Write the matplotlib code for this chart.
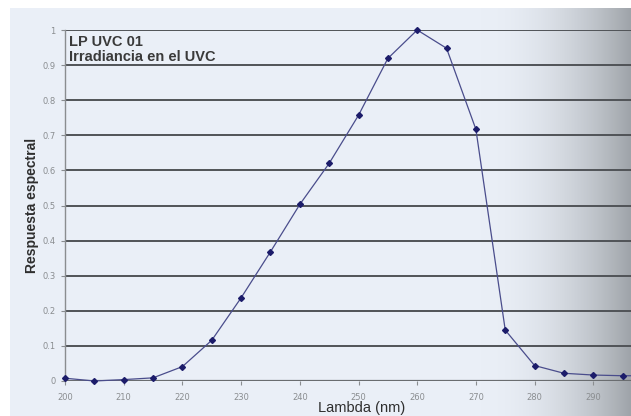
import numpy as np
import matplotlib
matplotlib.use('Agg')
import matplotlib.pyplot as plt

# data
wavelength = [200, 205, 210, 215, 220, 225, 230, 235, 240, 245, 250,
              255, 260, 265, 270, 275, 280, 285, 290, 295, 300]
response = [0.008, 0.0, 0.004, 0.009, 0.041, 0.116, 0.237, 0.368, 0.503, 0.62, 0.757,
            0.919, 1.0, 0.948, 0.717, 0.145, 0.044, 0.022, 0.017, 0.015, 0.015]
x_ticks = [200, 210, 220, 230, 240, 250, 260, 270, 280, 290, 300]
y_ticks = [0, 0.1, 0.2, 0.3, 0.4, 0.5, 0.6, 0.7, 0.8, 0.9, 1]
y_tick_labels = ['0', '0.1', '0.2', '0.3', '0.4', '0.5', '0.6', '0.7', '0.8', '0.9', '1']

W, H = 631, 416
fig = plt.figure(figsize=(W / 100, H / 100), dpi=100)

# background: pale blue paper that goes grey towards the right edge (photo)
bg = fig.add_axes([0, 0, 1, 1], zorder=-5)
cols = np.arange(W)
light = np.array([234, 239, 247]) / 255
dark = np.array([158, 163, 168]) / 255
t = np.clip((cols - 480) / (W - 480), 0, 1) ** 2.0
row = light[None, :] * (1 - t[:, None]) + dark[None, :] * t[:, None]
img = np.repeat(row[None, :, :], H, axis=0)
img[:8, :, :] = 1.0
img[:, :10, :] = 1.0
bg.imshow(img, aspect='auto', extent=[0, W, H, 0])
bg.set_axis_off()

left, right, top, bottom = 65, 652, 30, 381
ax = fig.add_axes([left / W, (H - bottom) / H, (right - left) / W, (bottom - top) / H])
ax.set_facecolor('none')

for yv in y_ticks[1:]:
    ax.axhline(yv, color='#505357', lw=1.4, zorder=1)
ax.axhline(0, color='#6a6d70', lw=1.6, zorder=1)

ax.plot(wavelength, response, color='#4a4d8c', lw=0.9, marker='D', markersize=3,
        markerfacecolor='#1c1c6a', markeredgecolor='#1c1c6a', zorder=3, clip_on=False)

ax.set_xlim(200, 300)
ax.set_ylim(0, 1)
ax.set_xticks(x_ticks)
ax.set_yticks(y_ticks)
ax.set_yticklabels(y_tick_labels)
ax.tick_params(axis='both', labelsize=6, colors='#8a8d90', length=3, width=0.8)
ax.tick_params(axis='x', pad=6)
ax.tick_params(axis='y', pad=4)

for s in ['top', 'right']:
    ax.spines[s].set_visible(False)
ax.spines['bottom'].set_visible(False)
ax.spines['left'].set_color('#8a8d90')
ax.spines['left'].set_linewidth(1.0)

ax.text(0.007, 0.985, 'LP UVC 01\nIrradiancia en el UVC', transform=ax.transAxes,
        ha='left', va='top', fontsize=10.5, fontweight='bold', color='#3a3a3a',
        linespacing=1.1, family='Liberation Sans')

fig.text(32 / W, 1 - 205 / H, 'Respuesta espectral', rotation=90, ha='center', va='center',
         fontsize=10, fontweight='bold', color='#2e2e2e', family='Liberation Sans')
fig.text(362 / W, 1 - 408 / H, 'Lambda (nm)', ha='center', va='center',
         fontsize=10.5, color='#2e2e2e', family='Liberation Sans')

fig.savefig('out.png', dpi=100)
